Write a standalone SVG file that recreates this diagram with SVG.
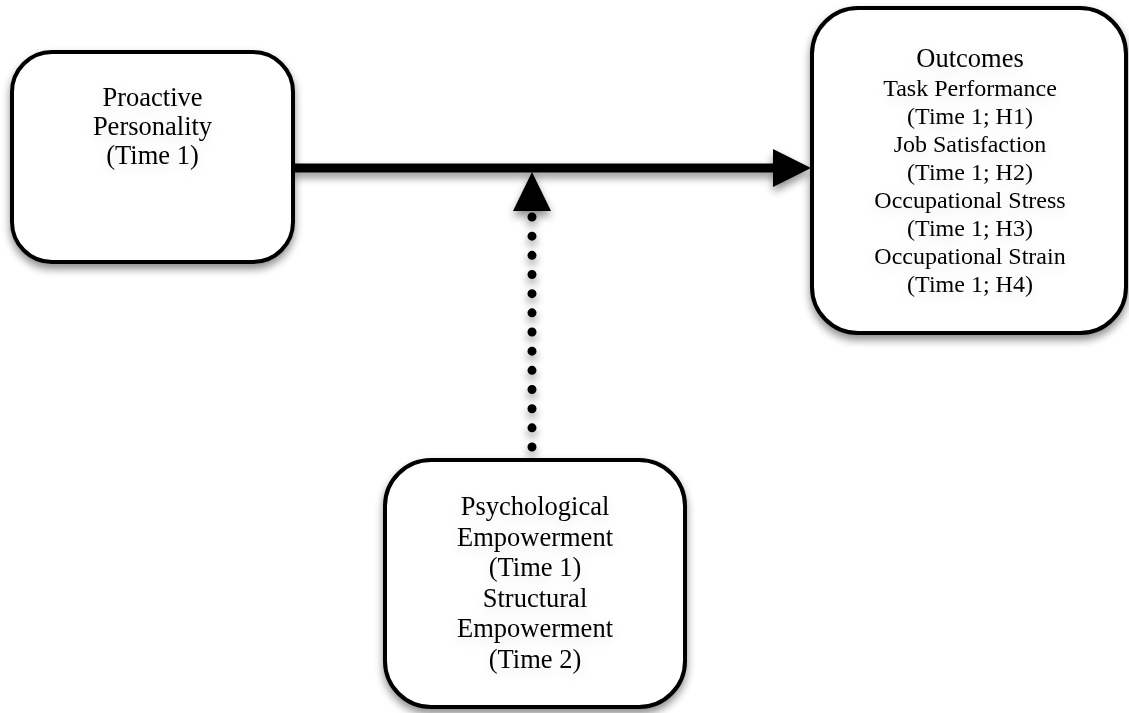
<svg xmlns="http://www.w3.org/2000/svg" width="1129" height="713" viewBox="0 0 1129 713">
  <defs>
    <filter id="shadow" x="-20%" y="-20%" width="140%" height="150%">
      <feGaussianBlur in="SourceAlpha" stdDeviation="4"/>
      <feOffset dx="0" dy="5" result="b"/>
      <feComponentTransfer><feFuncA type="linear" slope="0.45"/></feComponentTransfer>
      <feMerge><feMergeNode/><feMergeNode in="SourceGraphic"/></feMerge>
    </filter>
    <filter id="tshadow" x="-20%" y="-40%" width="140%" height="180%">
      <feGaussianBlur in="SourceAlpha" stdDeviation="7"/>
      <feOffset dx="0" dy="4"/>
      <feComponentTransfer><feFuncA type="linear" slope="0.12"/></feComponentTransfer>
      <feMerge><feMergeNode/><feMergeNode in="SourceGraphic"/></feMerge>
    </filter>
  </defs>
  <style>
    .box { fill: #ffffff; stroke: #000000; stroke-width: 4; }
    .lbl { font-family: "Liberation Serif", "Times New Roman", serif; fill: #000000; text-anchor: middle; }
    .big { font-size: 26.5px; }
    .sm { font-size: 24px; }
  </style>
  <rect width="1129" height="713" fill="#ffffff"/>

  <g id="connectors" filter="url(#shadow)">
    <line x1="293" y1="168" x2="775" y2="168" stroke="#000" stroke-width="9"/>
    <polygon points="773,149 811,168 773,187" fill="#000"/>
    <line x1="532" y1="217" x2="532" y2="447.5" stroke="#000" stroke-width="9" stroke-linecap="round" stroke-dasharray="0 19.17"/>
    <polygon points="532,172 513,211 551,211" fill="#000"/>
  </g>

  <g id="node-proactive">
    <rect class="box" x="12" y="52" width="281" height="210" rx="40" ry="40" filter="url(#shadow)"/>
    <g class="lbl big" filter="url(#tshadow)">
      <text x="152.5" y="105.5">Proactive</text>
      <text x="152.5" y="134.5">Personality</text>
      <text x="152.5" y="163.5">(Time 1)</text>
    </g>
  </g>

  <g id="node-outcomes">
    <rect class="box" x="812" y="8" width="314" height="325" rx="46" ry="46" filter="url(#shadow)"/>
    <g class="lbl sm" filter="url(#tshadow)">
      <text x="970" y="66.5" class="big">Outcomes</text>
      <text x="970" y="95.5">Task Performance</text>
      <text x="970" y="123.5">(Time 1; H1)</text>
      <text x="970" y="151.5">Job Satisfaction</text>
      <text x="970" y="179.5">(Time 1; H2)</text>
      <text x="970" y="207.5">Occupational Stress</text>
      <text x="970" y="235.5">(Time 1; H3)</text>
      <text x="970" y="263.5">Occupational Strain</text>
      <text x="970" y="291.5">(Time 1; H4)</text>
    </g>
  </g>

  <g id="node-empowerment">
    <rect class="box" x="385" y="460" width="300" height="247" rx="46" ry="46" filter="url(#shadow)"/>
    <g class="lbl big" filter="url(#tshadow)">
      <text x="535" y="515">Psychological</text>
      <text x="535" y="545.5">Empowerment</text>
      <text x="535" y="576">(Time 1)</text>
      <text x="535" y="606.5">Structural</text>
      <text x="535" y="637">Empowerment</text>
      <text x="535" y="667.5">(Time 2)</text>
    </g>
  </g>
</svg>
